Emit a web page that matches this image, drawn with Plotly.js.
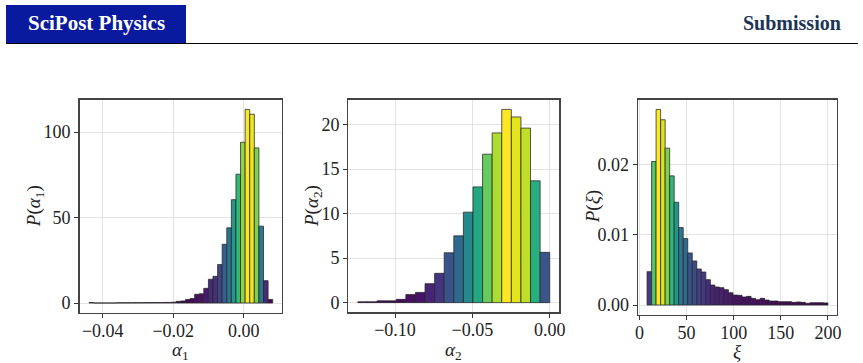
<!DOCTYPE html>
<html>
<head>
<meta charset="utf-8">
<script src="https://cdn.plot.ly/plotly-3.0.1.min.js"></script>
<style>
  html, body { margin: 0; padding: 0; background: #ffffff; }
  #plot { width: 863px; height: 363px; }
</style>
</head>
<body>
<div id="plot"></div>
<script>
// Histogram of alpha_1: 40 equal bins starting at alpha1Start
const alpha1Start = -0.0439;
const alpha1Width = 0.0013025;
const alpha1Density = [
  0.3, 0, 0, 0, 0, 0, 0.15, 0.15, 0.15, 0.2,
  0.2, 0.2, 0.25, 0.25, 0.3, 0.3, 0.35, 0.35, 0.5, 1.0,
  1.2, 2.0, 2.6, 5.1, 5.4, 8.6, 13.9, 15.6, 22.5, 34.4,
  44.0, 60.5, 75.4, 94.1, 113.3, 110.5, 90.8, 45.0, 13.1, 2.1
];

// Histogram of alpha_2: 20 equal bins
const alpha2Start = -0.1240;
const alpha2Width = 0.0062;
const alpha2Density = [
  0.1, 0.1, 0.2, 0.2, 0.37, 0.9, 1.15, 2.13, 3.29, 5.6,
  7.5, 10.16, 13.0, 16.67, 19.06, 21.7, 20.85, 19.6, 13.68, 5.65
];

// Histogram of xi: 40 equal bins
const xiStart = 8.0;
const xiWidth = 4.8;
const xiDensity = [
  0.00474, 0.02039, 0.02778, 0.02632, 0.02229, 0.01835, 0.0146, 0.0110, 0.00944, 0.0074,
  0.00626, 0.00512, 0.00469, 0.0036, 0.00284, 0.00256, 0.00247, 0.00218, 0.00175, 0.00142,
  0.00138, 0.00114, 0.00123, 0.00095, 0.00076, 0.00095, 0.00071, 0.00057, 0.00057, 0.00047,
  0.00047, 0.00047, 0.00038, 0.00043, 0.00038, 0.00024, 0.00033, 0.00033, 0.00033, 0.0003
];

// Tick values and labels
const alpha1TickVals = [-0.04, -0.02, 0.0];
const alpha1TickText = ['\u22120.04', '\u22120.02', '0.00'];
const alpha1YTickVals = [0, 50, 100];
const alpha1YTickText = ['0', '50', '100'];

const alpha2TickVals = [-0.10, -0.05, 0.0];
const alpha2TickText = ['\u22120.10', '\u22120.05', '0.00'];
const alpha2YTickVals = [0, 5, 10, 15, 20];
const alpha2YTickText = ['0', '5', '10', '15', '20'];

const xiTickVals = [0, 50, 100, 150, 200];
const xiTickText = ['0', '50', '100', '150', '200'];
const xiYTickVals = [0, 0.01, 0.02];
const xiYTickText = ['0.00', '0.01', '0.02'];

// Axis labels of the three panels
const xLabels = ['<i>α</i><sub>1</sub>', '<i>α</i><sub>2</sub>', '<i>ξ</i>'];
const yLabels = ['<i>P</i>(<i>α</i><sub>1</sub>)', '<i>P</i>(<i>α</i><sub>2</sub>)', '<i>P</i>(<i>ξ</i>)'];

const FONT = '"Liberation Serif", "DejaVu Serif", serif';
const W = 863, H = 363;

function centers(start, width, n) {
  const c = [];
  for (let i = 0; i < n; i++) c.push(start + (i + 0.5) * width);
  return c;
}

function histTrace(start, width, vals, xa, ya) {
  const maxV = Math.max(...vals);
  return {
    type: 'bar',
    x: centers(start, width, vals.length),
    y: vals,
    width: width,
    xaxis: xa,
    yaxis: ya,
    marker: {
      color: vals,
      colorscale: 'Viridis',
      cmin: 0,
      cmax: maxV,
      showscale: false,
      line: { color: 'rgba(40,40,40,0.85)', width: 0.9 }
    },
    hoverinfo: 'x+y',
    showlegend: false
  };
}

const data = [
  histTrace(alpha1Start, alpha1Width, alpha1Density, 'x', 'y'),
  histTrace(alpha2Start, alpha2Width, alpha2Density, 'x2', 'y2'),
  histTrace(xiStart, xiWidth, xiDensity, 'x3', 'y3')
];

function axis(domain, range, vals, text, anchor, isX) {
  const a = {
    domain: domain, range: range, anchor: anchor,
    tickmode: 'array', tickvals: vals, ticktext: text,
    ticks: 'outside', ticklen: 4, tickwidth: 1, tickcolor: '#333',
    showline: true, mirror: true, linecolor: '#444', linewidth: 1.3,
    showgrid: true, gridcolor: '#e3e3e3', gridwidth: 1,
    zeroline: false,
    tickfont: { family: FONT, size: 18, color: '#222' }
  };
  if (isX) a.ticklabelstandoff = -3;
  return a;
}

// panel frames in pixels: [left, right, top, bottom]
const frames = [
  [79.5, 281.5, 99.7, 312.7],
  [348.3, 559.3, 99.7, 312.3],
  [638.0, 837.0, 99.7, 314.8]
];
const xd = f => [f[0] / W, f[1] / W];
const yd = f => [1 - f[3] / H, 1 - f[2] / H];

const titleFont = { family: FONT, size: 19, color: '#222' };
const axisTitles = [];
const yTitleX = [35, 313, 593];
frames.forEach((f, i) => {
  axisTitles.push({ text: xLabels[i], xref: 'paper', yref: 'paper',
    x: (f[0] + f[1]) / 2 / W, y: 1 - 351 / H, xanchor: 'center', yanchor: 'middle',
    showarrow: false, font: titleFont });
  axisTitles.push({ text: yLabels[i], xref: 'paper', yref: 'paper', textangle: -90,
    x: yTitleX[i] / W, y: 1 - (f[2] + f[3]) / 2 / H, xanchor: 'center', yanchor: 'middle',
    showarrow: false, font: titleFont });
});

const layout = {
  width: W, height: H,
  margin: { l: 0, r: 0, t: 0, b: 0 },
  paper_bgcolor: '#ffffff',
  plot_bgcolor: '#ffffff',
  bargap: 0,
  xaxis:  axis(xd(frames[0]), [-0.0466, 0.0107], alpha1TickVals, alpha1TickText, 'y', true),
  yaxis:  axis(yd(frames[0]), [-5.67, 119.0], alpha1YTickVals, alpha1YTickText, 'x', false),
  xaxis2: axis(xd(frames[1]), [-0.1302, 0.0062], alpha2TickVals, alpha2TickText, 'y2', true),
  yaxis2: axis(yd(frames[1]), [-1.085, 22.79], alpha2YTickVals, alpha2YTickText, 'x2', false),
  xaxis3: axis(xd(frames[2]), [-1.6, 209.6], xiTickVals, xiTickText, 'y3', true),
  yaxis3: axis(yd(frames[2]), [-0.00139, 0.02917], xiYTickVals, xiYTickText, 'x3', false),
  shapes: [
    // journal banner box
    { type: 'rect', xref: 'paper', yref: 'paper',
      x0: 6 / W, x1: 186 / W, y0: 1 - 43 / H, y1: 1 - 5 / H,
      fillcolor: '#0a1a9e', line: { width: 0 } },
    // header rule
    { type: 'line', xref: 'paper', yref: 'paper',
      x0: 6 / W, x1: 858 / W, y0: 1 - 43.5 / H, y1: 1 - 43.5 / H,
      line: { color: '#000000', width: 1.2 } }
  ],
  annotations: [
    { text: '<b>SciPost Physics</b>', xref: 'paper', yref: 'paper',
      x: 96 / W, y: 1 - 23 / H, xanchor: 'center', yanchor: 'middle',
      showarrow: false, font: { family: FONT, size: 21, color: '#ffffff' } },
    { text: '<b>Submission</b>', xref: 'paper', yref: 'paper',
      x: 843 / W, y: 1 - 23 / H, xanchor: 'right', yanchor: 'middle',
      showarrow: false, font: { family: FONT, size: 20, color: '#1c3556' } }
  ].concat(axisTitles)
};

Plotly.newPlot('plot', data, layout, { displayModeBar: false, staticPlot: true });
</script>
</body>
</html>
